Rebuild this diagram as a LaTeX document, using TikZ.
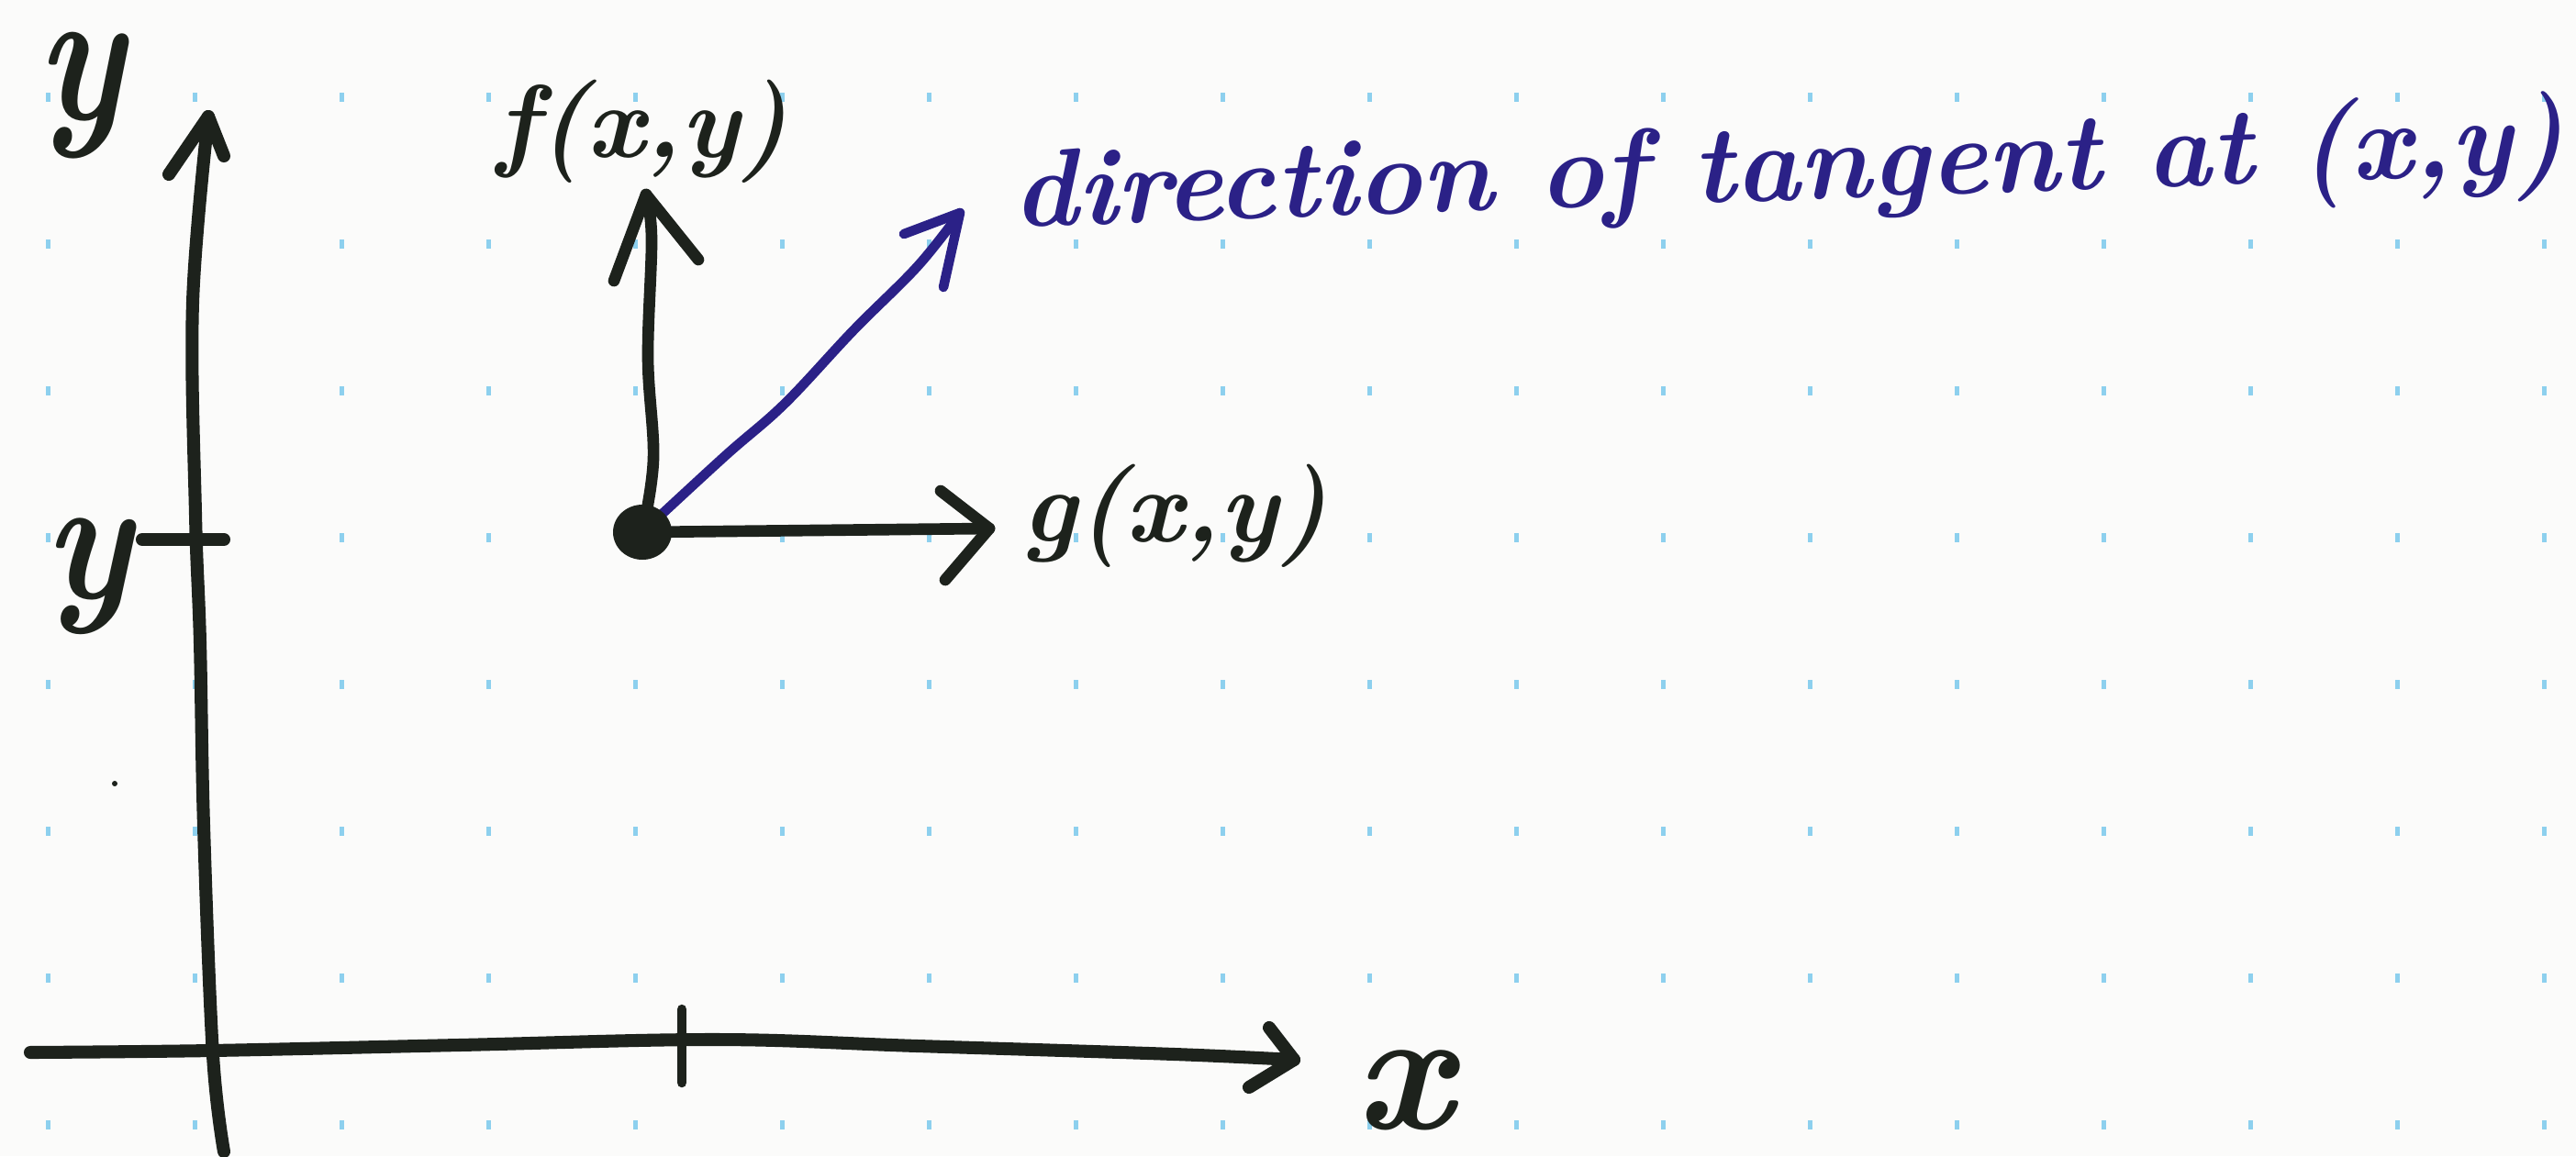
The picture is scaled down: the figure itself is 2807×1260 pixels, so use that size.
\documentclass[tikz,border=0pt]{standalone}
\usepackage{fontspec}
\definecolor{inkc}{HTML}{1D221C}
\definecolor{bluec}{HTML}{2B2187}
\definecolor{dotc}{HTML}{8DD0EE}
\definecolor{bgc}{HTML}{FBFBFA}
\begin{document}
\begin{tikzpicture}[x=0.01cm,y=-0.01cm,
  ink/.style={line width=4pt,line cap=round,line join=round,draw=inkc},
  arrowink/.style={line width=3.6pt,line cap=round,line join=round,draw=inkc},
  blueink/.style={line width=3pt,line cap=round,line join=round,draw=bluec},
  lbl/.style={inner sep=4pt,text=inkc,font=\bfseries\itshape}]
\fill[bgc] (0,0) rectangle (2807,1260);
\useasboundingbox (0,0) rectangle (2807,1260);
% dot grid
\foreach \i in {0,...,17}{
  \foreach \j in {0,...,7}{
    \fill[dotc] ({52+160*\i-2.5},{106+160*\j-5}) rectangle ++(5,10);
  }
}
% key points
\coordinate (ybot) at (244,1255);
\coordinate (ytip) at (227,127);
\coordinate (yb1) at (184,190);
\coordinate (yb2) at (244,170);
\coordinate (tickL) at (155,588);
\coordinate (tickR) at (244,588);
\coordinate (xstart) at (33,1147);
\coordinate (xtip) at (1410,1155);
\coordinate (xb1) at (1383,1120);
\coordinate (xb2) at (1361,1185);
\coordinate (xtickT) at (743,1100);
\coordinate (xtickB) at (743,1180);
\coordinate (P) at (700,580);
\coordinate (ftip) at (704,212);
\coordinate (fb1) at (669,306);
\coordinate (fb2) at (761,283);
\coordinate (gtip) at (1078,576);
\coordinate (gb1) at (1025,535);
\coordinate (gb2) at (1030,632);
\coordinate (ttip) at (1046,232);
\coordinate (tb1) at (985,255);
\coordinate (tb2) at (1028,313);
% y axis
\draw[ink] plot[smooth,tension=0.6] coordinates {(ybot) (232,1150) (222,900) (218,700) (213,560) (210,330) (ytip)};
\draw[ink] (yb1) -- (ytip) -- (yb2);
\draw[ink] (tickL) -- (tickR);
% x axis
\draw[ink] plot[smooth,tension=0.6] coordinates {(xstart) (230,1145) (500,1139) (781,1133) (1000,1140) (1280,1149) (xtip)};
\draw[ink] (xb1) -- (xtip) -- (xb2);
\draw[arrowink,line width=3pt] (xtickT) -- (xtickB);
% f arrow
\draw[arrowink] plot[smooth,tension=0.6] coordinates {(P) (712,500) (706,390) (710,260) (ftip)};
\draw[arrowink] (fb1) -- (ftip) -- (fb2);
% g arrow
\draw[arrowink] (P) -- (gtip);
\draw[arrowink] (gb1) -- (gtip) -- (gb2);
% blue tangent
\draw[blueink] plot[smooth,tension=0.6] coordinates {(P) (790,497) (855,440) (930,360) (1000,290) (ttip)};
\draw[blueink] (tb1) -- (ttip) -- (tb2);
% point
\fill[inkc] (P) ellipse (32 and 30);
\fill[inkc] (125,854) circle (3);
% labels
\node[lbl,yscale=1.25] (ylab) at (88,104) {\fontsize{48}{50}\selectfont y};
\node[lbl,yscale=1.15] (ylab2) at (96,628) {\fontsize{48}{50}\selectfont y};
\node[lbl] (xlab) at (1530,1188) {\fontsize{54}{56}\selectfont x};
\node[lbl] (flab) at (700,143) {\fontsize{32}{34}\selectfont f(x,y)};
\node[lbl] (glab) at (1280,562) {\fontsize{32}{34}\selectfont g(x,y)};
\node[inner sep=4pt,text=bluec,anchor=base west,rotate=2,font=\bfseries\itshape] (tlab) at (1090,248)
  {\fontsize{34}{36}\selectfont direction of tangent at (x,y)};
\end{tikzpicture}
\end{document}
